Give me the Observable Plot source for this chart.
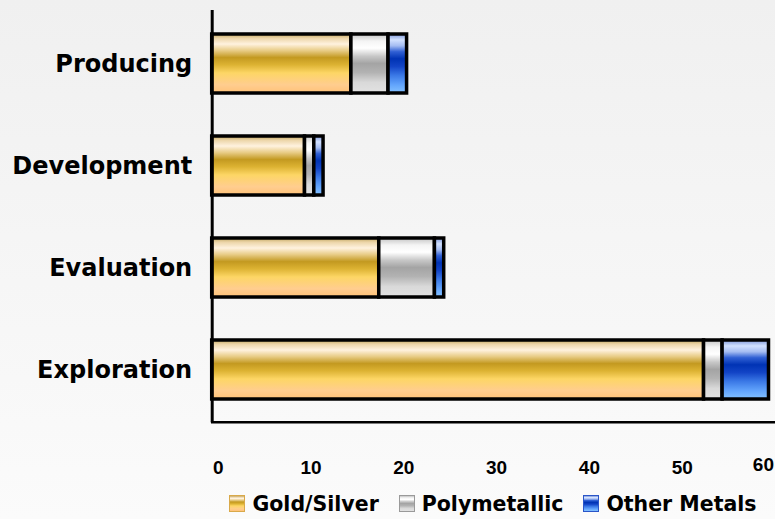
<!DOCTYPE html>
<html>
<head>
<meta charset="utf-8">
<script src="https://cdn.jsdelivr.net/npm/d3@7"></script>
<script src="https://cdn.jsdelivr.net/npm/@observablehq/plot@0.6"></script>
<style>
  html, body { margin: 0; padding: 0; }
  body {
    width: 775px; height: 519px; overflow: hidden; position: relative;
    background: linear-gradient(#f0f0f0, #fbfbfb);
  }
  #chart svg { display: block; }
  #legend {
    position: absolute; left: 211px; width: 564px; top: 488px; height: 31px;
    display: flex; justify-content: center; align-items: center; gap: 20px;
    font-family: "DejaVu Sans", sans-serif; font-weight: bold; font-size: 20.5px; color: #000;
  }
  .item { display: flex; align-items: center; gap: 7px; }
  .swatch { width: 14px; height: 15px; border: 1px solid #999; margin-top: -1px; }
</style>
</head>
<body>
<div id="chart"></div>
<div id="legend"></div>
<script>
// Project counts by stage and commodity
const stages = ["Producing", "Development", "Evaluation", "Exploration"];
const metals = ["Gold/Silver", "Polymetallic", "Other Metals"];
const goldSilver   = [15, 10, 18, 53];
const polymetallic = [4, 1, 6, 2];
const otherMetals  = [2, 1, 1, 5];
const xTicks = [0, 10, 20, 30, 40, 50, 60];

const series = [goldSilver, polymetallic, otherMetals];
const rows = stages.flatMap((stage, i) =>
  metals.map((metal, k) => ({stage, metal, count: series[k][i]}))
);

// Glossy vertical gradients for each commodity
const gradients = {
  "g-gold": [
    [0, "#bfa35e"], [0.07, "#ecd5a8"], [0.17, "#fff2df"], [0.28, "#e8cc86"],
    [0.4, "#c39920"], [0.52, "#dcb232"], [0.66, "#fdd665"], [0.86, "#ffcd8f"], [1, "#ffc278"]
  ],
  "g-poly": [
    [0, "#c4c4c4"], [0.12, "#f4f4f4"], [0.24, "#ffffff"], [0.38, "#c6c6c6"],
    [0.5, "#a4a4a4"], [0.65, "#b2b2b2"], [0.82, "#d9d9d9"], [1, "#e2e2e2"]
  ],
  "g-other": [
    [0, "#7d96d8"], [0.1, "#d2e1ff"], [0.2, "#a4bcf2"], [0.3, "#3060d4"],
    [0.42, "#0033b4"], [0.55, "#1244c6"], [0.7, "#3a78e6"], [0.86, "#62a4fc"], [1, "#84c2ff"]
  ]
};
const fills = Object.keys(gradients).map(id => `url(#${id})`);

const tickFont = {fontSize: 19, fontWeight: "bold", fontFamily: "Liberation Sans", fill: "#000"};
const lastTick = xTicks[xTicks.length - 1];

const chart = Plot.plot({
  width: 775,
  height: 488,
  marginLeft: 211.7,
  marginRight: 6.5,
  marginTop: 12,
  marginBottom: 66.3,
  style: {background: "transparent", overflow: "visible"},
  x: {domain: [0, 60], axis: null, label: null},
  y: {domain: stages, paddingInner: 0.42, paddingOuter: 0.21, axis: null, label: null},
  color: {type: "ordinal", domain: metals, range: fills},
  marks: [
    Plot.barX(rows, Plot.stackX({
      y: "stage", x: "count", fill: "metal", order: null,
      stroke: "#000", strokeWidth: 3.5
    })),
    Plot.ruleX([0], {stroke: "#000", strokeWidth: 3, insetTop: -2, insetBottom: -0.5}),
    Plot.frame({anchor: "bottom", stroke: "#000", strokeWidth: 2.5, insetRight: -7}),
    Plot.axisY({
      tickSize: 0, tickPadding: 20, label: null,
      fontSize: 24, fontWeight: "bold", fontFamily: "DejaVu Sans", fill: "#000"
    }),
    // x tick labels; the last one is tucked inside the right edge
    Plot.text(xTicks.filter(t => t !== lastTick), {
      x: d => d, text: d => String(d), frameAnchor: "bottom", lineAnchor: "top",
      dy: 38, dx: 6, ...tickFont
    }),
    Plot.text([lastTick], {
      x: d => d, text: d => String(d), frameAnchor: "bottom", lineAnchor: "top",
      dy: 35.5, dx: 5, textAnchor: "end", ...tickFont
    })
  ]
});

// Gradient definitions referenced by the bar fills
const defs = d3.select(chart).insert("defs", ":first-child");
for (const [id, stops] of Object.entries(gradients)) {
  const g = defs.append("linearGradient").attr("id", id)
    .attr("x1", 0).attr("y1", 0).attr("x2", 0).attr("y2", 1);
  for (const [o, c] of stops) g.append("stop").attr("offset", o).attr("stop-color", c);
}
document.getElementById("chart").append(chart);

// Legend
const legend = d3.select("#legend");
metals.forEach((m, k) => {
  const stops = Object.values(gradients)[k];
  const css = "linear-gradient(" + stops.map(([o, c]) => `${c} ${o * 100}%`).join(", ") + ")";
  const item = legend.append("div").attr("class", "item");
  item.append("div").attr("class", "swatch").style("background", css)
    .style("border-color", ["#d9a94a", "#9a9a9a", "#2a55c8"][k]);
  item.append("span").text(m);
});
</script>
</body>
</html>
